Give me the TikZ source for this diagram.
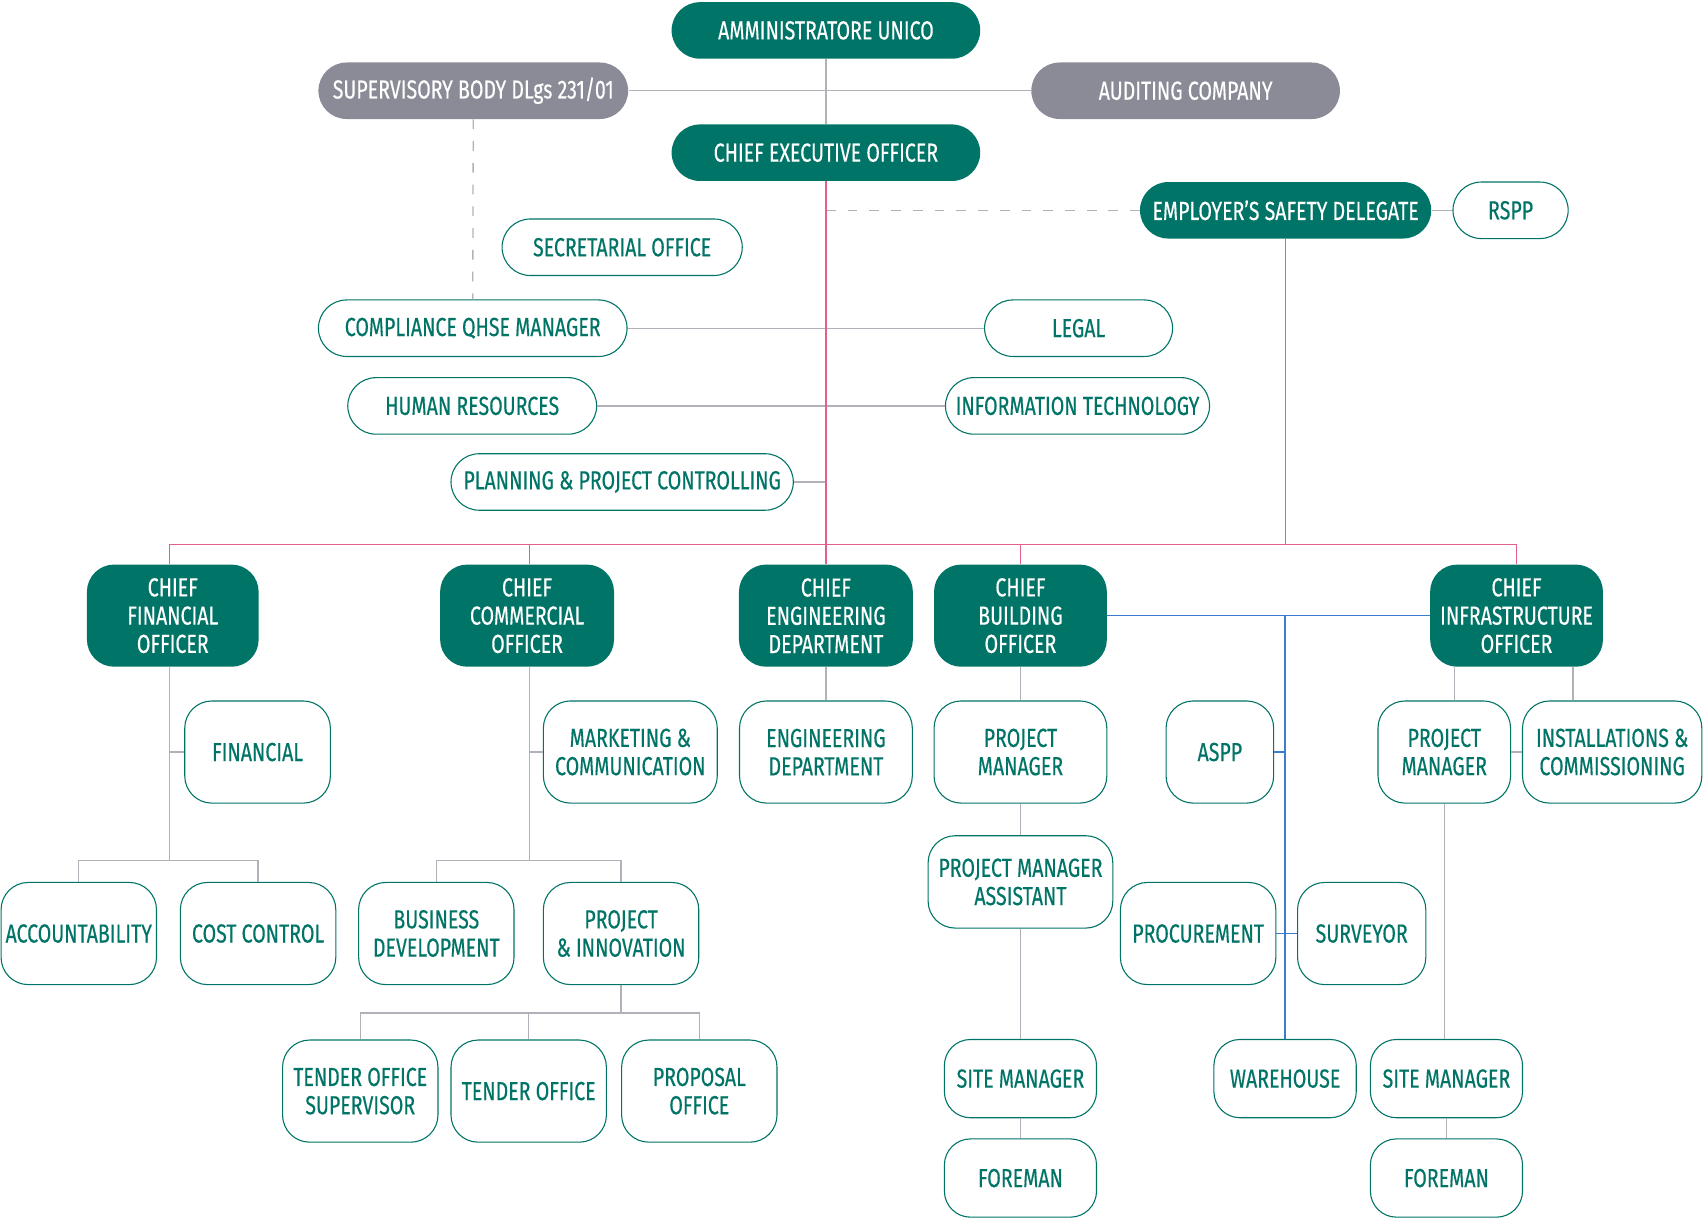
\documentclass[tikz,border=0pt]{standalone}
\usepackage{fontspec}
\setmainfont{Fira Sans}[FakeStretch=0.75,FakeBold=0.35]
\definecolor{teal}{RGB}{0,116,102}
\definecolor{grayfill}{RGB}{138,139,150}
\definecolor{linegray}{RGB}{178,177,186}
\definecolor{pinkc}{RGB}{226,96,140}
\definecolor{bluec}{RGB}{60,124,204}
\tikzset{
  base/.style={inner sep=0pt, align=center, font=\fontsize{12}{13}\selectfont},
  tealbox/.style={base, fill=teal, text=white},
  graybox/.style={base, fill=grayfill, text=white},
  outbox/.style={base, draw=teal, line width=0.5pt, fill=white, text=teal},
  pill/.style={rounded corners=13pt, minimum height=26pt},
  tall/.style={rounded corners=12.5pt, minimum height=47pt},
  mid/.style={rounded corners=12pt, minimum height=36pt},
  grayl/.style={draw=linegray, line width=0.6pt},
  dashl/.style={draw=linegray, line width=0.6pt, dash pattern=on 4.5pt off 5.5pt},
  pinkl/.style={draw=pinkc, line width=0.6pt},
  bluel/.style={draw=bluec, line width=0.7pt},
}
\begin{document}
\begin{tikzpicture}[x=0.5pt,y=-0.5pt]
\useasboundingbox (0,0) rectangle (1568,1121);
% top
\node[tealbox,pill,minimum width=142pt] (AMM) at (760,28) {AMMINISTRATORE UNICO};
\node[graybox,pill,minimum width=142.5pt] (SUP) at (435.5,83.5) {SUPERVISORY BODY DLgs 231/01};
\node[graybox,pill,minimum width=142pt] (AUD) at (1091,83.5) {AUDITING COMPANY};
\node[tealbox,pill,minimum width=142pt] (CEO) at (760,140.5) {CHIEF EXECUTIVE OFFICER};
\node[tealbox,pill,minimum width=134pt] (ESD) at (1183,193.5) {EMPLOYER'S SAFETY DELEGATE};
\node[outbox,pill,minimum width=53pt] (RSPP) at (1390,193.5) {RSPP};
\node[outbox,pill,minimum width=110.5pt] (SEC) at (572.5,227.5) {SECRETARIAL OFFICE};
\node[outbox,pill,minimum width=142pt] (COMP) at (435,302) {COMPLIANCE QHSE MANAGER};
\node[outbox,pill,minimum width=86.5pt] (LEGAL) at (992.5,302) {LEGAL};
\node[outbox,pill,minimum width=114.5pt] (HR) at (434.5,373.5) {HUMAN RESOURCES};
\node[outbox,pill,minimum width=121.5pt] (IT) at (991.5,373.5) {INFORMATION TECHNOLOGY};
\node[outbox,pill,minimum width=157.5pt] (PLAN) at (572.5,443.5) {PLANNING \& PROJECT CONTROLLING};
% row 2
\node[tealbox,tall,minimum width=79pt] (CFO) at (159,566.5) {CHIEF\\FINANCIAL\\OFFICER};
\node[tealbox,tall,minimum width=80pt] (CCO) at (485,566.5) {CHIEF\\COMMERCIAL\\OFFICER};
\node[tealbox,tall,minimum width=80pt] (CED) at (760,566.5) {CHIEF\\ENGINEERING\\DEPARTMENT};
\node[tealbox,tall,minimum width=79.5pt] (CBO) at (939,566.5) {CHIEF\\BUILDING\\OFFICER};
\node[tealbox,tall,minimum width=79.5pt] (CIO) at (1395.5,566.5) {CHIEF\\INFRASTRUCTURE\\OFFICER};
% row 3
\node[outbox,tall,minimum width=67pt] (FIN) at (237,692) {FINANCIAL};
\node[outbox,tall,minimum width=80pt] (MKT) at (580,692) {MARKETING \&\\COMMUNICATION};
\node[outbox,tall,minimum width=79.5pt] (ENG) at (760,692) {ENGINEERING\\DEPARTMENT};
\node[outbox,tall,minimum width=79.5pt] (PMB) at (939,692) {PROJECT\\MANAGER};
\node[outbox,tall,minimum width=49.5pt] (ASPP) at (1122.5,692) {ASPP};
\node[outbox,tall,minimum width=61pt] (PMI) at (1329,692) {PROJECT\\MANAGER};
\node[outbox,tall,minimum width=82.5pt] (INST) at (1483.5,692) {INSTALLATIONS \&\\COMMISSIONING};
% row 4
\node[outbox,tall,minimum width=71.5pt] (ACC) at (72.5,859) {ACCOUNTABILITY};
\node[outbox,tall,minimum width=71.5pt] (COST) at (237.5,859) {COST CONTROL};
\node[outbox,tall,minimum width=71.5pt] (BUS) at (401.5,859) {BUSINESS\\DEVELOPMENT};
\node[outbox,tall,minimum width=71.5pt] (PI) at (571.5,859) {PROJECT\\\& INNOVATION};
\node[outbox,rounded corners=12.5pt,minimum height=42.5pt,minimum width=85pt] (PMA) at (939,811.5) {PROJECT MANAGER\\ASSISTANT};
\node[outbox,tall,minimum width=71.5pt] (PROC) at (1102.5,859) {PROCUREMENT};
\node[outbox,tall,minimum width=59pt] (SURV) at (1253,859) {SURVEYOR};
% row 5
\node[outbox,tall,minimum width=71.5pt] (TOS) at (331.5,1004) {TENDER OFFICE\\SUPERVISOR};
\node[outbox,tall,minimum width=71.5pt] (TO) at (486.5,1004) {TENDER OFFICE};
\node[outbox,tall,minimum width=71.5pt] (PO) at (643.5,1004) {PROPOSAL\\OFFICE};
\node[outbox,mid,minimum width=70pt] (SMB) at (939,992.5) {SITE MANAGER};
\node[outbox,mid,minimum width=65.5pt] (WARE) at (1182.5,992.5) {WAREHOUSE};
\node[outbox,mid,minimum width=70pt] (SMI) at (1331,992.5) {SITE MANAGER};
\node[outbox,mid,minimum width=70pt] (FMB) at (939,1084) {FOREMAN};
\node[outbox,mid,minimum width=70pt] (FMI) at (1331,1084) {FOREMAN};
% coordinates
\coordinate (bus) at (0,501);
\coordinate (b4) at (0,792);
\coordinate (b5) at (0,932);
\coordinate (cfot) at ([xshift=-1.5pt]CFO.north);
\coordinate (cfob) at ([xshift=-1.5pt]CFO.south);
\coordinate (ccot) at ([xshift=1pt]CCO.north);
\coordinate (ccob) at ([xshift=1pt]CCO.south);
\coordinate (ciol) at ([xshift=11.5pt]CIO.south west);
\coordinate (cior) at ([xshift=-14pt]CIO.south east);
% top connectors
\draw[grayl] (AMM.south) -- (CEO.north);
\draw[grayl] (SUP.east) -- (AUD.west);
\draw[dashl] (SUP.south) -- (COMP.north);
\draw[dashl] (CEO.south |- ESD.west) -- (ESD.west);
\draw[grayl] (ESD.east) -- (RSPP.west);
\draw[grayl] (COMP.east) -- (LEGAL.west);
\draw[grayl] (HR.east) -- (IT.west);
\draw[grayl] (PLAN.east) -- (PLAN.east -| CEO.south);
% pink
\draw[pinkl] (CEO.south) -- (CED.north);
\draw[pinkl] (ESD.south) -- (ESD.south |- bus);
\draw[pinkl] (cfot) |- (CIO.north |- bus) -- (CIO.north);
\draw[pinkl] (ccot) -- (ccot |- bus);
\draw[pinkl] (CBO.north) -- (CBO.north |- bus);
% CFO
\draw[grayl] (cfob) -- (cfob |- b4);
\draw[grayl] (ACC.north) |- (COST.north |- b4) -- (COST.north);
\draw[grayl] (FIN.west) -- (FIN.west -| cfob);
% CCO
\draw[grayl] (ccob) -- (ccob |- b4);
\draw[grayl] (BUS.north) |- (PI.north |- b4) -- (PI.north);
\draw[grayl] (MKT.west) -- (MKT.west -| ccob);
\draw[grayl] (PI.south) -- (PI.south |- b5);
\draw[grayl] (TOS.north) |- (PO.north |- b5) -- (PO.north);
\draw[grayl] (TO.north) -- (TO.north |- b5);
% CED
\draw[grayl] (CED.south) -- (CED.south |- ENG.north);
% CBO
\draw[grayl] (CBO.south) -- (CBO.south |- PMB.north);
\draw[grayl] (PMB.south) -- (PMB.south |- PMA.north);
\draw[grayl] (PMA.south) -- (PMA.south |- SMB.north);
\draw[grayl] (SMB.south) -- (SMB.south |- FMB.north);
% blue
\draw[bluel] (CBO.east) -- (CIO.west);
\draw[bluel] (WARE.north) -- (WARE.north |- CBO.east);
\draw[bluel] (ASPP.east) -- (ASPP.east -| WARE.north);
\draw[bluel] (PROC.east) -- (SURV.west);
% CIO
\draw[grayl] (ciol) -- (ciol |- PMI.north);
\draw[grayl] (cior) -- (cior |- INST.north);
\draw[grayl] (PMI.east) -- (INST.west);
\draw[grayl] (PMI.south) -- (PMI.south |- SMI.north);
\draw[grayl] (SMI.south) -- (SMI.south |- FMI.north);
\end{tikzpicture}
\end{document}
